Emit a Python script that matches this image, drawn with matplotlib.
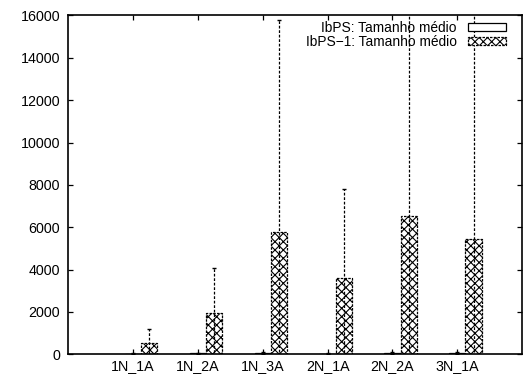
import numpy as np
import matplotlib
matplotlib.use("Agg")
from matplotlib import pyplot as plt

plt.rcParams["font.family"] = ["Liberation Sans", "DejaVu Sans"]
plt.rcParams["hatch.linewidth"] = 0.8

categories = ["1N_1A", "1N_2A", "1N_3A", "2N_1A", "2N_2A", "3N_1A"]
ibps_mean = [30, 35, 40, 30, 40, 45]
ibps_err = [40, 40, 50, 40, 50, 50]
ibps1_mean = [520, 1960, 5770, 3610, 6520, 5440]
ibps1_err = [680, 2100, 10000, 4170, 10500, 10800]

fig = plt.figure(figsize=(5.27, 3.78), dpi=100)
fig.patch.set_facecolor("white")
ax = fig.add_axes([0.129, 0.063, 0.862, 0.896])

x = np.arange(len(categories))
w = 0.25

# first series: empty boxes (values close to zero)
ax.bar(x, ibps_mean, w, color="white", edgecolor="black", lw=0.9,
       label="IbPS: Tamanho médio", zorder=2)
ax.errorbar(x, ibps_mean, yerr=ibps_err, fmt="none", ecolor="black",
            elinewidth=0.9, capsize=1.5, zorder=3)

# second series: crosshatched boxes with dashed border
ax.bar(x + w, ibps1_mean, w, color="white", edgecolor="black", lw=0.9,
       hatch="xxxx", linestyle=(0, (2, 1)), label="IbPS\u22121: Tamanho médio", zorder=2)
eb = ax.errorbar(x + w, ibps1_mean, yerr=ibps1_err, fmt="none", ecolor="black",
                 elinewidth=0.9, capsize=1.5, zorder=3)
for lc in eb[2]:
    lc.set_linestyle((0, (2.2, 1.4)))

ax.set_xlim(-1, 6)
ax.set_ylim(0, 16000)
ax.set_xticks(x)
ax.set_xticklabels(categories)
ax.set_yticks(np.arange(0, 16001, 2000))
ax.tick_params(direction="in", length=3.5, width=0.9, top=True, right=True,
               labelsize=10.3, pad=5.5)
ax.tick_params(axis="x", pad=3.5)
for s in ax.spines.values():
    s.set_linewidth(1.2)

leg = ax.legend(loc="upper right", frameon=False, markerfirst=False,
                fontsize=9.9, handlelength=2.8, handleheight=0.5,
                labelspacing=0.05, borderpad=0, borderaxespad=0,
                bbox_to_anchor=(0.965, 0.985), handletextpad=0.8)

fig.savefig("out.png", dpi=100)
